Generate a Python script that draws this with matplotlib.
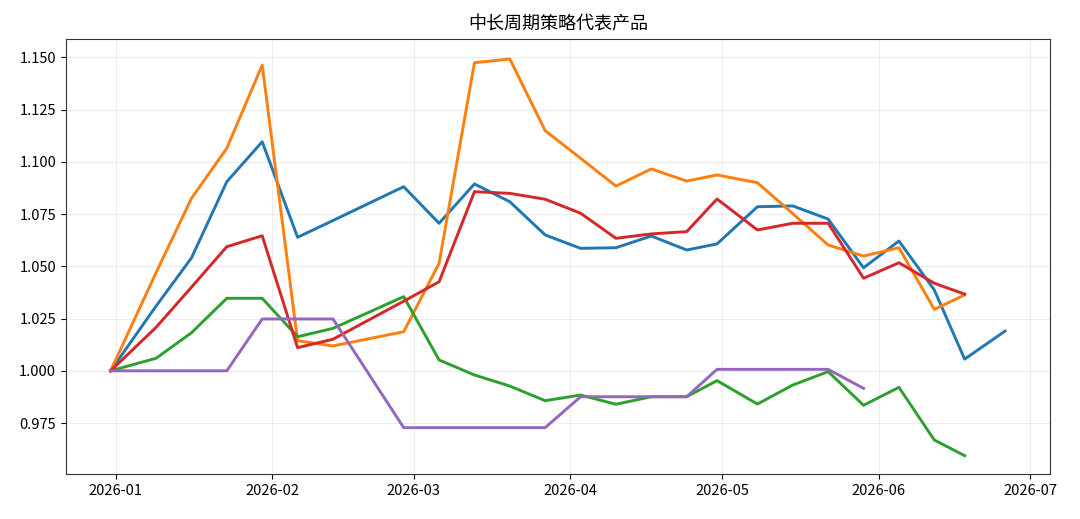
import numpy as np
import pandas as pd
import matplotlib
matplotlib.use("Agg")
import matplotlib.pyplot as plt
import matplotlib.dates as mdates
from matplotlib.ticker import MultipleLocator, FormatStrFormatter

plt.rcParams['font.family'] = ['Noto Sans CJK SC', 'DejaVu Sans']

# ---------------------------------------------------------
# data (weekly NAV, normalised to 1.000)
# ---------------------------------------------------------
dates = pd.to_datetime([
    "2025-12-31", "2026-01-09", "2026-01-16", "2026-01-23", "2026-01-30",
    "2026-02-06", "2026-02-13", "2026-02-27", "2026-03-06", "2026-03-13",
    "2026-03-20", "2026-03-27", "2026-04-03", "2026-04-10", "2026-04-17",
    "2026-04-24", "2026-04-30", "2026-05-08", "2026-05-15", "2026-05-22",
    "2026-05-29", "2026-06-05", "2026-06-12", "2026-06-18", "2026-06-26",
])

nan = np.nan

blue = [1.000, 1.031, 1.054, 1.0905, 1.1096, 1.0639, 1.0719, 1.0881, 1.0706, 1.0894,
        1.0809, 1.0650, 1.0586, 1.0589, 1.0645, 1.0578, 1.0607, 1.0785, 1.0789, 1.0726,
        1.0493, 1.0621, 1.0387, 1.0056, 1.0190]

orange = [1.000, 1.047, 1.0825, 1.1065, 1.1463, 1.0144, 1.0119, 1.0187, 1.0514, 1.1474,
          1.1492, 1.1149, 1.1017, 1.0884, 1.0966, 1.0908, 1.0937, 1.0900, 1.0752, 1.0602,
          1.0549, 1.0589, 1.0294, 1.0363, nan]

green = [1.000, 1.0060, 1.0182, 1.0347, 1.0347, 1.0163, 1.0203, 1.0355, 1.0052, 0.9980,
         0.9927, 0.9857, 0.9884, 0.9840, 0.9876, 0.9876, 0.9953, 0.9841, 0.9932, 0.9996,
         0.9835, 0.9921, 0.9669, 0.9594, nan]

red = [1.000, 1.0208, 1.0400, 1.0594, 1.0646, 1.0111, 1.0151, 1.0333, 1.0426, 1.0857,
       1.0849, 1.0821, 1.0754, 1.0634, 1.0655, 1.0666, 1.0822, 1.0674, 1.0706, 1.0706,
       1.0443, 1.0517, 1.0419, 1.0367, nan]

purple = [1.000, 1.000, 1.000, 1.000, 1.0248, 1.0248, 1.0248, 0.9728, 0.9728, 0.9728,
          0.9728, 0.9728, 0.9876, 0.9876, 0.9876, 0.9876, 1.0007, 1.0007, 1.0007, 1.0007,
          0.9916, nan, nan, nan, nan]

series = [blue, orange, green, red, purple]
colors = ["#1f77b4", "#ff7f0e", "#2ca02c", "#d62728", "#9467bd"]

# ---------------------------------------------------------
# plot
# ---------------------------------------------------------
fig = plt.figure(figsize=(10.8, 5.19), dpi=100)
ax = fig.add_axes([0.061, 0.087, 0.911, 0.838])

for values, color in zip(series, colors):
    ax.plot(dates, values, color=color, linewidth=2.1)

ax.set_title("中长周期策略代表产品", fontsize=13, pad=7)

ax.set_ylim(0.9507, 1.1588)
ax.xaxis.set_major_locator(mdates.MonthLocator())
ax.xaxis.set_major_formatter(mdates.DateFormatter("%Y-%m"))
ax.yaxis.set_major_locator(MultipleLocator(0.025))
ax.yaxis.set_major_formatter(FormatStrFormatter("%.3f"))

ax.tick_params(labelsize=10.5)
ax.grid(True, color="#cccccc", alpha=0.35, linewidth=0.8)

for spine in ax.spines.values():
    spine.set_color("#333333")

fig.savefig("out.png", dpi=100)
